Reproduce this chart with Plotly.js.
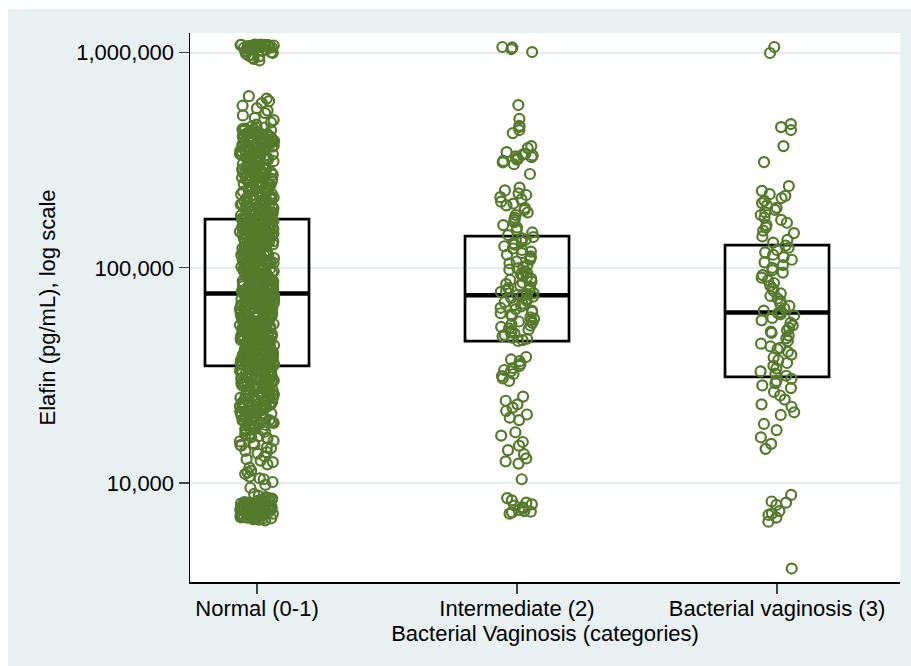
<!DOCTYPE html>
<html>
<head>
<meta charset="utf-8">
<script src="https://cdn.plot.ly/plotly-3.0.1.min.js"></script>
<style>
  html, body { margin: 0; padding: 0; background: #ffffff; }
  #chart { width: 911px; height: 666px; }
</style>
</head>
<body>
<div id="chart"></div>
<script>
// Bacterial vaginosis categories on the x axis (positions 1, 2, 3)
const categories = ['Normal (0-1)', 'Intermediate (2)', 'Bacterial vaginosis (3)'];
const categoryPos = [1, 2, 3];

// Elafin concentrations per woman, in thousands of pg/mL
const elafinNormalK = [
  1085, 1079, 1091, 1072, 1083, 1088, 1076, 1081, 1069, 1086, 1074, 1090, 1078, 1082, 1066, 1087, 1073, 1080, 1084, 1070,
  1077, 1089, 1063, 1058, 1045, 1032, 1018, 1005, 992, 978, 962, 948, 935, 921, 1052, 1025, 998, 970,
  628, 612, 596, 583, 567, 552, 538, 524, 511, 498, 486, 474, 463, 455,
  447, 441, 436, 430, 425, 419, 414, 408, 403, 397, 392, 386, 381, 375, 370, 364, 359, 353, 348, 343,
  338, 333, 328, 323, 318, 313, 308, 304, 299, 295, 290, 286, 282, 277, 273, 269, 265, 261, 257, 253,
  249, 245, 242, 238, 234, 231, 227, 224, 220, 217, 214, 211, 208, 205, 202, 199, 196, 193, 190, 187,
  185, 182, 180, 177, 175, 173, 171, 169.5, 444, 389, 341, 301, 264, 229, 198,
  432, 421, 409, 398, 384, 373, 361, 350, 339, 327, 316, 306, 296, 287, 279, 271, 263, 255, 247, 240,
  233, 226, 219, 213, 207, 201, 195, 189, 184, 179, 174, 170, 426, 393, 356, 322, 292, 267, 243, 221,
  204, 188, 176, 415, 345,
  437, 418, 401, 379, 366, 347, 331, 314, 302, 289, 275, 262, 251, 237, 225, 215, 206, 197, 186, 178,
  172, 169, 410, 367, 325, 283, 248, 216, 192, 181,
  449, 433, 423, 406, 395, 382, 371, 357, 344, 335, 320, 309, 297, 284, 272, 259, 246, 235, 223, 212,
  203, 194, 183, 175, 170.5, 428, 391, 358, 329, 297.5, 270, 244, 222.5, 209, 191.5, 177.5, 400, 337, 278, 232,
  167, 165.4, 164.1, 162.3, 161.2, 159.4, 158.1, 156.6, 155.2, 153.3, 152.1, 150.6, 149.2, 147.3, 146.1, 144.4,
  143.2, 141.6, 140.1, 138.3, 137.2, 135.4, 134.1, 132.7, 131.2, 129.4, 128.1, 126.6, 125.2, 123.3, 122.1, 120.4,
  119.2, 117.6, 116.1, 114.8, 113.5, 112.3, 111.1, 110.2, 108.7, 107.5, 106.3, 105.1, 104.2, 102.9, 101.5, 100.3,
  99.1, 98.2, 96.8, 95.7, 94.6, 93.5, 92.6, 91.3, 90.2, 89.3, 88.1, 87.2, 86.1, 85.1, 84.2, 83.1, 82.2, 81.1,
  80.1, 79.3, 78.4, 77.5, 76.8, 76.3, 166, 160, 154, 148, 142, 136, 130, 124, 118, 112, 106, 100, 95, 90,
  86.5, 82.5, 79, 163, 151, 139, 127, 115, 103, 93, 84.5, 77.2,
  166.5, 163.2, 160.7, 157.3, 154.6, 151.4, 148.7, 145.6, 142.8, 139.7, 136.4, 133.5, 130.6, 127.7, 124.8, 121.6,
  118.7, 115.5, 113, 110.6, 108.1, 105.7, 103.3, 101, 98.8, 96.4, 94.2, 92, 89.8, 87.7, 85.6, 83.6, 81.7, 79.8,
  78.1, 76.6, 165, 158.8, 152.6, 146.7, 140.9, 135.1, 129.2, 123.9, 118.3, 113.8, 109.4, 104.8, 100.6, 96.7,
  92.9, 89.1, 85.4, 82.1, 78.9, 161.8, 149.8, 137.9, 126.1, 114.2, 102.2, 91.7, 83.8, 77.9, 156.1, 133, 110.9,
  94.9, 80.7, 144, 120, 97.9, 88.3, 81.3, 167.7, 153.9, 131.9, 107.1, 86.9,
  167.3, 162.9, 158.5, 154.1, 149.9, 145.2, 141.1, 137.1, 132.3, 128.6, 124.4, 120.9, 116.9, 112.8, 109.1, 105.4,
  101.9, 98.5, 95.2, 92.1, 89.5, 86.7, 84.2, 81.9, 79.6, 77.7, 76.4, 164.7, 155.5, 147.1, 138.9, 131.3, 122.6,
  116.5, 107.8, 99.9, 93.3, 87.5, 82.8, 78.7, 159.9, 143.3, 125.7, 111.5, 96.1,
  75.5, 74.8, 73.9, 73.1, 72.2, 71.4, 70.5, 69.8, 68.9, 68.1, 67.4, 66.6, 65.8, 65.1, 64.3, 63.6, 62.9, 62.1,
  61.4, 60.8, 60.1, 59.4, 58.7, 58.1, 57.4, 56.8, 56.2, 55.5, 54.9, 54.3, 53.7, 53.1, 52.5, 51.9, 51.3, 50.8,
  50.2, 49.6, 49.1, 48.5, 48, 47.5, 46.9, 46.4, 45.9, 45.4, 44.9, 44.4, 43.9, 43.4, 42.9, 42.4, 42, 41.5,
  41.1, 40.6, 40.2, 39.7, 39.3, 38.9, 38.4, 38, 37.6, 37.2, 36.8, 36.4, 36, 35.6, 35.2, 74.2, 70.9, 67.8,
  64.7, 61.7, 58.9, 56.1, 53.4, 50.9, 48.3, 46, 43.7, 41.6, 39.6, 37.7, 35.9, 72.6, 66.1, 60.4, 55.1, 50.1,
  45.6, 41.8, 38.1, 75.9, 62.5, 52.2, 44.1, 36.6,
  75.1, 73.5, 71.8, 70.1, 68.5, 66.9, 65.4, 63.9, 62.4, 61, 59.6, 58.3, 57, 55.7, 54.5, 53.3, 52.1, 50.9,
  49.8, 48.7, 47.7, 46.6, 45.6, 44.6, 43.6, 42.7, 41.8, 40.9, 40, 39.1, 38.2, 37.4, 36.6, 35.8, 35.1, 74.6,
  71.1, 67.6, 64.1, 60.9, 57.7, 54.8, 52, 49.3, 46.8, 44.3, 42.1, 39.9, 37.9, 36, 72.9, 66.4, 60.2, 54.2,
  48.9, 44, 39.4, 35.5, 69.4, 58.5, 50.4, 43.3, 37.1, 75.7, 62.8, 51.6, 41.2, 70.7, 56.4, 45.1, 36.2, 67.1,
  53.6, 40.4, 64.6, 47.3, 38.7, 59, 42.5, 73,
  75.3, 73.7, 72, 70.3, 68.7, 67.2, 65.6, 64, 62.6, 61.2, 59.8, 58.4, 57.2, 55.9, 54.6, 53.4, 52.3, 51.1,
  50, 48.9, 47.8, 46.7, 45.7, 44.7, 43.8, 42.8, 41.9, 41, 40.1, 39.2, 38.4, 37.6, 36.7, 35.9, 35.3, 74, 68,
  62, 56.6, 51.4, 46.2, 42.3, 38.6, 36.3, 71.6,
  34.6, 33.9, 33.1, 32.4, 31.6, 30.9, 30.1, 29.4, 28.6, 27.9, 27.1, 26.4, 25.6, 24.8, 24.1, 23.3, 22.6, 21.9,
  21.2, 20.6, 34.1, 31.2, 28.2, 25.1, 22.1,
  34.8, 33.6, 32.7, 31.9, 30.6, 29.8, 28.9, 28, 27.3, 26.5, 25.8, 25, 24.3, 23.6, 22.9, 22.3, 21.6, 21,
  20.4, 34.3, 32.1, 30.3, 28.4, 26.8, 25.3, 23.8, 22.4, 21.1, 33.4, 29.1, 26.1, 23.1, 20.8, 31.4, 27.6,
  24.6, 21.4, 30, 25.6, 22.7, 32.9, 27, 24, 29.6, 19.9,
  34.9, 33.3, 31.8, 30.4, 29, 27.8, 26.6, 25.4, 24.4, 23.4, 22.5, 21.7, 20.9, 20.3, 33.8, 30.8, 27.4, 24.9,
  22.2, 19.8,
  34.4, 33.2, 32, 30.7, 29.5, 28.3, 27.2, 26.2, 25.2, 24.2, 23.2, 22.3, 21.5, 20.7, 20.1, 34.7, 31.5, 28.8,
  26, 23.5, 21.3, 33, 29.3, 25.9, 22.8, 20.5, 32.5, 27.7, 24.7, 21.8,
  19.7, 19.3, 18.9, 18.5, 18.1, 17.7, 17.3, 16.9, 16.5, 16.1, 15.7, 15.3, 14.9, 14.5, 14.1, 13.7, 13.3, 12.9,
  12.5, 12.2, 19.1, 17.5, 16.3, 15, 13.9, 12.7, 19.5, 18.7, 18.2, 17.9, 19.2, 18.4, 17.6,
  19.6, 19, 18.6, 18, 17.4, 16.8, 16.2, 15.6, 15.1, 14.6,
  11.8, 11.4, 11, 10.7, 10.4, 10.1, 9.8, 9.5, 11.2, 10.5,
  8.9, 8.7, 8.6, 8.5, 8.4, 8.3, 8.2, 8.1, 8.05, 8, 7.95, 7.9, 7.85, 7.8, 7.75, 7.7, 7.65, 7.6, 7.55, 7.5,
  7.45, 7.4, 7.35, 7.3, 7.25, 7.2, 7.15, 7.1, 7.05, 7, 6.95, 6.9, 6.85, 6.8, 6.75, 6.7, 8.35, 8.15, 7.98, 7.82,
  7.68, 7.52, 7.38, 7.22, 7.08, 6.92, 6.78, 8.25, 7.88, 7.58, 7.28, 7.02, 6.88, 7.62, 7.42,
  8.45, 8.22, 8.02, 7.92, 7.78, 7.72, 7.64, 7.56, 7.48, 7.44, 7.36, 7.32, 7.26, 7.18, 7.12, 7.06, 6.98, 6.94,
  6.86, 6.82, 7.5, 7.7, 7.9, 8.1, 7.3, 7.1, 7.6, 7.4, 7.8, 7.2
];

const elafinIntermediateK = [
  1063, 1058, 1040, 1007,
  571, 492, 457, 452, 437, 423, 368, 360,
  345, 340, 336, 333, 330, 327, 324, 321, 318, 314, 309, 303,
  273,
  236, 229, 222, 218, 213, 208, 203, 199, 195, 190, 186, 181, 176, 171, 167,
  163, 158, 154, 150, 146, 142,
  139, 137, 135, 132, 130, 128, 126, 123, 121, 119, 117, 115, 113, 111, 109, 107, 105, 103, 101, 99.5,
  98, 96.5, 95, 93.5, 92, 90.6, 89.2, 87.8, 86.5, 85.2, 84, 82.8, 81.6, 80.5, 79.4, 78.3, 77.3, 76.3, 75.4, 74.7,
  74.5, 73.5, 72.4, 71.3, 70.3, 69.2, 68.2, 67.2, 66.2, 65.2, 64.3, 63.3, 62.4, 61.5, 60.6, 59.7, 58.8, 57.9,
  57.1, 56.3, 55.5, 54.7, 53.9, 53.1, 52.3, 51.6, 50.9, 50.2, 49.5, 48.8, 48.1, 47.4, 46.8, 46.1, 45.7,
  38.5, 37.5, 36.8, 35.8, 35, 34.2, 33.5, 33, 32.1, 31.4, 30.6, 29.8,
  25.2, 24.1, 23.2, 22.4, 21.6, 20.8, 20.1, 19.6,
  17.2, 16.6,
  15.5, 14.9, 14.2, 13.6, 13, 12.6, 12.3,
  10.4,
  8.5, 8.3, 8.1, 7.95, 7.85, 7.7, 7.6, 7.5, 7.4, 7.35, 7.3, 7.2
];

const elafinBVK = [
  1063, 997,
  466, 451, 437, 368, 310, 240,
  228, 220, 216, 211, 205, 200, 195, 190, 186, 181, 176, 171, 167, 162, 158, 154, 149, 145, 140, 135, 131,
  127, 124, 121, 118, 115, 112, 109, 106, 103, 100, 97.5, 95, 92.5, 90, 87.5, 85, 82.5, 80, 78, 76, 74, 72,
  70, 68.2, 66.5, 64.8, 63.3, 62.2,
  61.5, 60, 58.5, 57, 55.5, 54, 52.6, 51.2, 49.8, 48.4, 47, 45.7, 44.4, 43.1, 41.9, 40.7, 39.5, 38.3, 37.2,
  36.1, 35, 34, 33, 32.2, 31.5, 60.8, 50.5, 42.5,
  30.5, 29.8, 29.1, 28.4, 27.6, 26.5, 25.5, 24.4,
  23.2, 22.6, 21.3, 20.7, 18.8, 17.6, 16.3, 15.2, 14.4,
  8.8, 8.2, 8.1, 7.9, 7.4, 7.2, 7.1, 6.9, 6.6,
  4.0
];

// Box statistics per category (thousands of pg/mL): 25th, 50th and 75th percentiles
const boxQ1K = [35.0, 45.6, 31.1];
const boxMedianK = [76.0, 74.6, 62.0];
const boxQ3K = [168.5, 140.4, 127.5];

// Y axis ticks
const yTickVals = [10000, 100000, 1000000];
const yTickText = ['10,000', '100,000', '1,000,000'];

const PER_K = 1000;
const groups = [elafinNormalK, elafinIntermediateK, elafinBVK];

const olive = '#557A2C';
const textFont = { family: 'Liberation Sans, Arial, Helvetica, sans-serif', size: 22, color: '#000000' };
const boxWidth = 0.4;
const jitterHalf = 0.066;

// deterministic horizontal scatter so overlapping points stay visible
function scatterOffset(i, k) {
  const s = Math.sin((i + 1) * 12.9898 + (k + 1) * 78.233) * 43758.5453;
  const f = s - Math.floor(s);
  return (f - 0.5) * 2 * jitterHalf;
}

const traces = [];

// Interquartile boxes (no whiskers: fences sit on the quartiles)
traces.push({
  type: 'box',
  x: categoryPos,
  q1: boxQ1K.map(v => v * PER_K),
  median: boxMedianK.map(v => v * PER_K),
  q3: boxQ3K.map(v => v * PER_K),
  lowerfence: boxQ1K.map(v => v * PER_K),
  upperfence: boxQ3K.map(v => v * PER_K),
  width: boxWidth,
  boxpoints: false,
  whiskerwidth: 0,
  fillcolor: 'rgba(0,0,0,0)',
  line: { color: '#000000', width: 2.7 },
  hoverinfo: 'skip',
  showlegend: false
});

// Heavier median bars
const medX = [], medY = [];
categoryPos.forEach((c, k) => {
  medX.push(c - boxWidth / 2, c + boxWidth / 2, null);
  medY.push(boxMedianK[k] * PER_K, boxMedianK[k] * PER_K, null);
});
traces.push({
  type: 'scatter', mode: 'lines', x: medX, y: medY,
  line: { color: '#000000', width: 4.6 },
  hoverinfo: 'skip', showlegend: false
});

// Individual measurements
groups.forEach((vals, k) => {
  traces.push({
    type: 'scatter',
    mode: 'markers',
    name: categories[k],
    x: vals.map((v, i) => categoryPos[k] + scatterOffset(i, k)),
    y: vals.map(v => v * PER_K),
    marker: { symbol: 'circle-open', size: 10, color: olive, line: { width: 2.2, color: olive } },
    showlegend: false
  });
});

// Plot area geometry (pixels)
const W = 911, H = 666, L = 190, R = 11, T = 33, B = 84;
const pw = W - L - R, ph = H - T - B;

const layout = {
  width: W, height: H,
  margin: { l: L, r: R, t: T, b: B, pad: 0 },
  paper_bgcolor: '#ffffff',
  plot_bgcolor: '#ffffff',
  showlegend: false,
  font: textFont,
  shapes: [
    // graph region background
    { type: 'rect', xref: 'paper', yref: 'paper', layer: 'below',
      x0: (8 - L) / pw, x1: (W + 5 - L) / pw, y0: (ph + T - H - 5) / ph, y1: (ph + T - 9) / ph,
      fillcolor: '#EAF1F3', line: { width: 0 } },
    // white plot region
    { type: 'rect', xref: 'paper', yref: 'paper', layer: 'below',
      x0: 0, x1: 1, y0: 0, y1: 1, fillcolor: '#ffffff', line: { width: 0 } }
  ],
  xaxis: {
    range: [0.7423, 3.473],
    tickmode: 'array', tickvals: categoryPos, ticktext: categories,
    ticks: 'outside', ticklen: 10, tickwidth: 1.3, tickcolor: '#444444',
    ticklabelstandoff: -4,
    showline: true, linecolor: '#000000', linewidth: 1.5,
    showgrid: false, zeroline: false,
    tickfont: textFont,
    title: { text: 'Bacterial Vaginosis (categories)', font: textFont, standoff: 0 }
  },
  yaxis: {
    type: 'log',
    range: [3.5395, 6.0916],
    tickmode: 'array', tickvals: yTickVals, ticktext: yTickText,
    ticks: 'outside', ticklen: 10, tickwidth: 1.3, tickcolor: '#444444',
    showline: true, linecolor: '#000000', linewidth: 1.5,
    showgrid: true, gridcolor: '#E4EDF0', gridwidth: 1.6,
    zeroline: false,
    tickfont: textFont,
    title: { text: 'Elafin (pg/mL), log scale', font: textFont, standoff: 14 }
  }
};

Plotly.newPlot('chart', traces, layout, { staticPlot: true, displayModeBar: false });
</script>
</body>
</html>
